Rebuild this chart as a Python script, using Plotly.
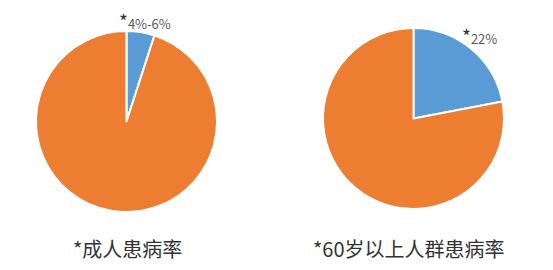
import plotly.graph_objects as go

labels = ["患病", "未患病"]
adult_values = [5, 95]
elderly_values = [22, 78]
adult_label = "4%-6%"
elderly_label = "22%"
titles = ["*成人患病率", "*60岁以上人群患病率"]
colors = ["#5B9BD5", "#ED7D31"]

W, H = 553, 270

def dom(x0, x1, ytop, ybot):
    return dict(x=[x0 / W, x1 / W], y=[(H - ybot) / H, (H - ytop) / H])

fig = go.Figure()
fig.add_trace(go.Pie(labels=labels, values=adult_values, sort=False, direction="clockwise",
                     rotation=0, textinfo="none", hoverinfo="label+percent",
                     marker=dict(colors=colors, line=dict(color="white", width=2)),
                     domain=dom(36, 217, 30, 213), showlegend=False))
fig.add_trace(go.Pie(labels=labels, values=elderly_values, sort=False, direction="clockwise",
                     rotation=0, textinfo="none", hoverinfo="label+percent",
                     marker=dict(colors=colors, line=dict(color="white", width=2)),
                     domain=dom(323, 504, 27, 210), showlegend=False))

font_cjk = "Noto Sans CJK SC, Noto Sans, sans-serif"
star = "<span style='font-size:19px;color:#333333'>*</span>"
ann = [
    dict(x=145 / W, y=1 - 21 / H, text=star + adult_label, font=dict(size=13, color="#595959", family=font_cjk)),
    dict(x=479 / W, y=1 - 35 / H, text=star + elderly_label, font=dict(size=13, color="#595959", family=font_cjk)),
    dict(x=127 / W, y=1 - 248 / H, text=titles[0], font=dict(size=20, color="#333333", family=font_cjk)),
    dict(x=409 / W, y=1 - 248 / H, text=titles[1], font=dict(size=20, color="#333333", family=font_cjk)),
]
for a in ann:
    a.update(xref="paper", yref="paper", showarrow=False, xanchor="center", yanchor="middle")

fig.update_layout(width=W, height=H, margin=dict(l=0, r=0, t=0, b=0),
                  paper_bgcolor="white", plot_bgcolor="white", annotations=ann)
fig.write_html("out.html")
